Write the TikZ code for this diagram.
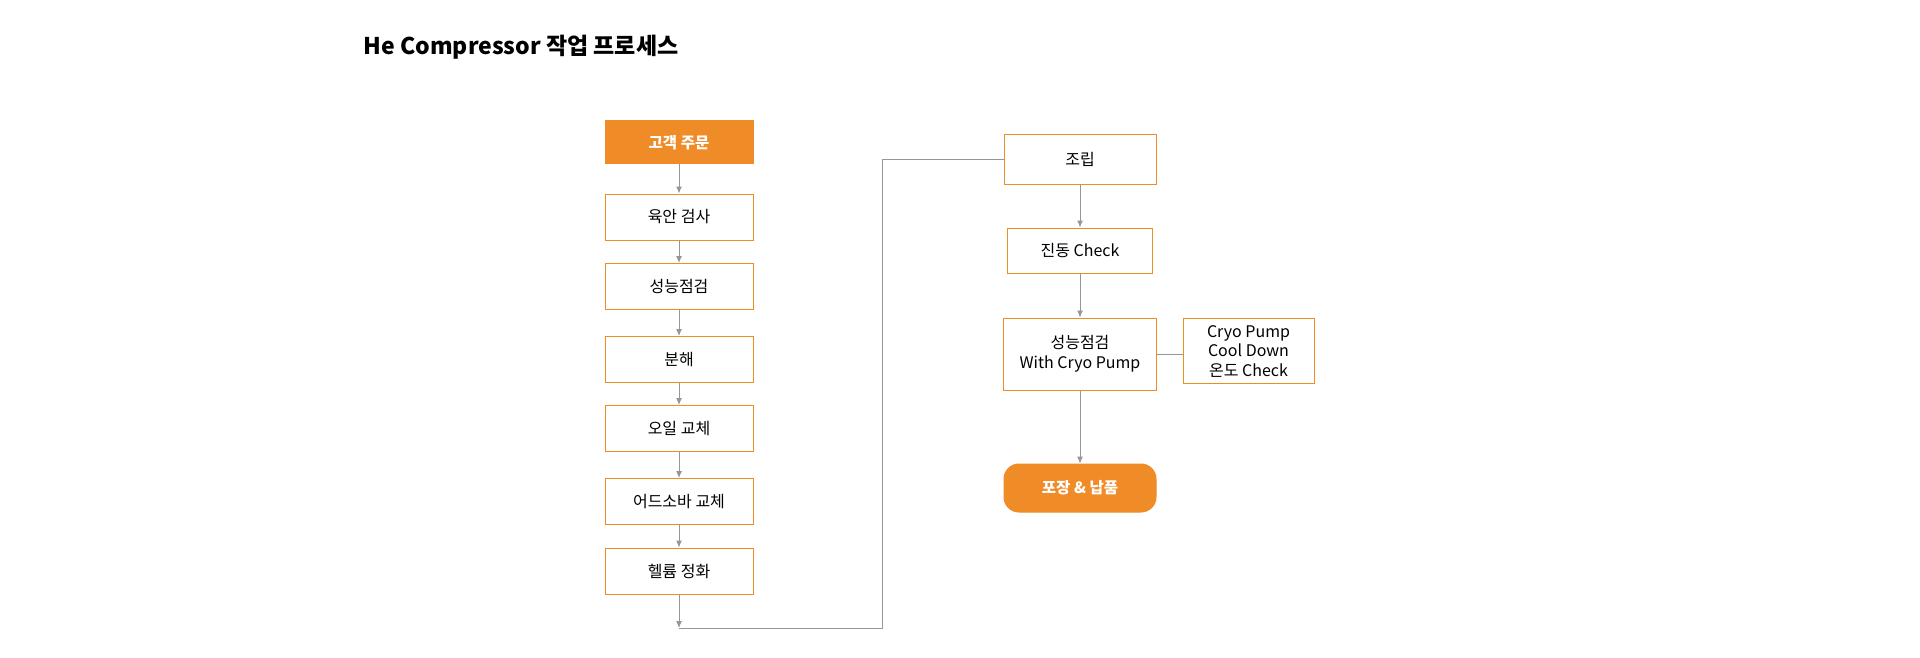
\documentclass[tikz,border=0pt]{standalone}
\usepackage{fontspec}
\setmainfont{Noto Sans CJK KR}
\usetikzlibrary{arrows.meta}
\definecolor{procorange}{RGB}{240,140,40}
\definecolor{linegray}{RGB}{150,150,150}

\begin{document}
\begin{tikzpicture}[x=1pt, y=-1pt, >={Latex[length=7pt,width=6pt]},
  stepbox/.style={draw=procorange, line width=1pt, fill=white, inner sep=0pt,
    minimum width=148pt, minimum height=46pt, align=center,
    font=\fontsize{16}{19.5}\selectfont},
  startbox/.style={stepbox, fill=procorange, text=white, font=\fontsize{15.5}{19.5}\selectfont\bfseries},
  flow/.style={draw=linegray, line width=1pt}]
  \fill[white] (0,0) rectangle (1920,658);
  \useasboundingbox (0,0) rectangle (1920,658);
  \node[anchor=base west, font=\fontsize{23}{27}\selectfont\bfseries] (title) at (360,55)
    {He Compressor 작업 프로세스};
  % left column.
  \node[startbox, minimum height=43pt] (order) at (679,142.5) {고객 주문};
  \node[stepbox] (visual)  at (679,217)   {육안 검사};
  \node[stepbox] (perf)    at (679,286.5) {성능점검};
  \node[stepbox] (disasm)  at (679,359.5) {분해};
  \node[stepbox] (oil)     at (679,428.5) {오일 교체};
  \node[stepbox] (adsorb)  at (679,501.5) {어드소바 교체};
  \node[stepbox] (helium)  at (679,571)   {헬륨 정화};
  \coordinate (loopend)  at (679,628);
  \coordinate (loopturn) at (882,628);
  \draw[flow, ->] (order) -- (visual);
  \draw[flow, ->] (visual) -- (perf);
  \draw[flow, ->] (perf) -- (disasm);
  \draw[flow, ->] (disasm) -- (oil);
  \draw[flow, ->] (oil) -- (adsorb);
  \draw[flow, ->] (adsorb) -- (helium);
  \draw[flow, ->] (helium) -- (loopend);
  % right column.
  \node[stepbox, minimum width=152pt, minimum height=49pt] (assy) at (1080,159.5) {조립};
  \node[stepbox, minimum width=145pt, minimum height=45pt] (vib) at (1080,250.5) {진동 Check};
  \node[stepbox, minimum width=153pt, minimum height=72pt] (cryotest) at (1080,354)
    {성능점검\\With Cryo Pump};
  \node[stepbox, minimum width=131pt, minimum height=65pt] (cooldown) at (1248.5,351)
    {Cryo Pump\\Cool Down\\온도 Check};
  \node[startbox, minimum width=152pt, minimum height=48pt, rounded corners=15pt] (ship)
    at (1080,488) {포장 \& 납품};
  \draw[flow] (loopend) -- (loopturn) |- (assy.west);
  \draw[flow, ->] (assy) -- (vib);
  \draw[flow, ->] (vib) -- (cryotest);
  \draw[flow] (cryotest.east) -- (cryotest.east -| cooldown.west);
  \draw[flow, ->] (cryotest) -- (ship);
\end{tikzpicture}
\end{document}
